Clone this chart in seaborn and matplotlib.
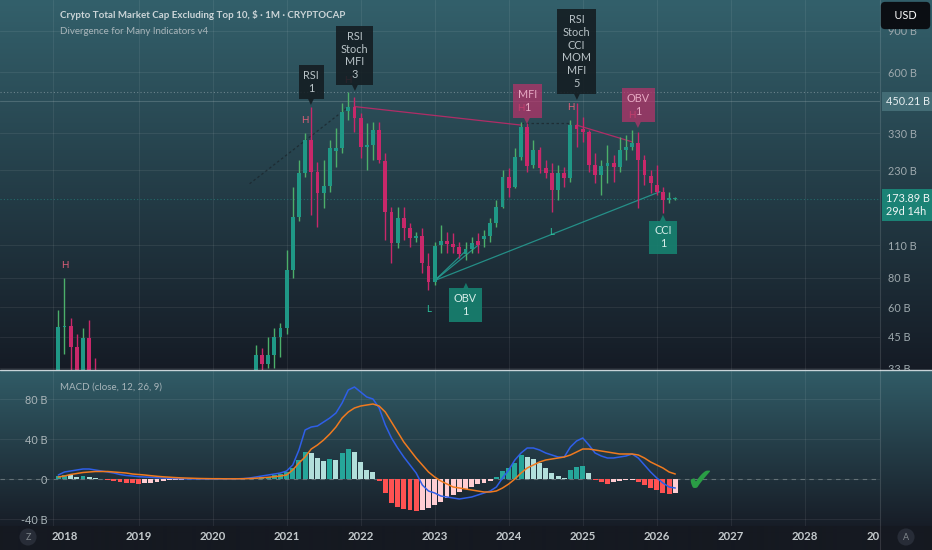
import numpy as np
import pandas as pd
import seaborn as sns
import matplotlib.pyplot as plt
from matplotlib.lines import Line2D
from matplotlib.transforms import Bbox, TransformedBbox

# monthly candles, values in billions USD (Dec 2017 .. Apr 2026)
months = pd.date_range('2017-12-01', '2026-04-01', freq='MS')

open_ = [28, 49.4, 50, 40.7, 25, 44.4, 30, 24, 25, 19,
         18, 17, 11, 9, 8.5, 10.5, 11.5, 13, 17, 16,
         13, 11.5, 10, 10.5, 9, 8.5, 11, 12, 9, 11,
         12.5, 13, 21, 37.7, 34.4, 37.7, 44.8, 48.9, 86.5, 145,
         223, 309, 226, 184, 197, 276, 284, 410, 426, 383,
         288, 294, 340, 250, 152, 113, 144, 130, 118, 121,
         90, 77, 110, 115, 112, 108, 101, 106, 115, 117,
         121, 137, 160, 215, 195, 261, 350, 242, 280, 235,
         223, 190, 223, 213, 357, 345, 334, 242, 219, 240,
         247, 236, 280, 288, 300, 254, 217, 199, 185, 172,
         173.5]
high = [58.5, 80, 54, 46, 49, 53, 36.5, 29, 26, 22,
        20, 18, 13, 10, 11, 12, 14, 19, 21, 17,
        14, 13, 11.5, 11, 9.5, 11.5, 14, 12.5, 11.5, 13,
        14, 22, 41.5, 40.3, 44.8, 48.9, 51.4, 105, 195, 254,
        330, 426, 249, 254, 309, 347, 443, 493, 470, 402,
        364, 368, 368, 272, 160, 160, 160, 137, 125, 130,
        102, 114, 134, 125, 124, 114, 114, 119, 124, 128,
        144, 171, 230, 235, 285, 368, 364, 309, 288, 254,
        246, 242, 237, 375, 443, 386, 340, 272, 254, 294,
        266, 318, 324, 340, 334, 266, 230, 242, 195, 185,
        176.5]
low = [27, 38, 31, 22, 24, 28, 22, 21, 17, 16,
       15, 10, 8, 8, 8, 10, 11, 12, 15, 12,
       11, 9, 9, 8.5, 8, 8.4, 10.5, 7, 8.5, 10.5,
       12, 12.8, 20.5, 31, 33, 33, 36.9, 46, 80, 140,
       215, 148, 132, 159, 185, 237, 272, 375, 334, 259,
       230, 254, 246, 116, 93, 107, 116, 108, 114, 84,
       71, 75, 102, 102, 102, 97, 95, 102, 102, 108,
       114, 132, 159, 177, 193, 254, 226, 235, 223, 213,
       152, 171, 195, 204, 288, 303, 226, 203, 180, 203,
       204, 226, 254, 280, 159, 199, 184, 180, 151, 167,
       172]
close = [49.4, 50, 40.7, 25, 44.4, 30, 24, 25, 19, 18,
         17, 11, 9, 8.5, 10.5, 11.5, 13, 17, 16, 13,
         11.5, 10, 10.5, 9, 8.5, 11, 12, 9, 11, 12.5,
         13, 21, 37.7, 34.4, 37.7, 44.8, 48.9, 86.5, 145, 223,
         309, 226, 184, 197, 285, 284, 406, 426, 383, 288,
         294, 340, 254, 152, 113, 144, 130, 118, 121, 93,
         77, 109, 115, 111, 108, 101, 106, 113, 110, 121,
         137, 160, 215, 193, 261, 350, 240, 280, 235, 223,
         190, 223, 213, 357, 345, 334, 242, 219, 240, 247,
         236, 280, 288, 300, 254, 219, 203, 185, 171, 173.5,
         173.89]

# MACD (close, 12, 26, 9), billions
hist = [3.5, 4.5, 4.0, 2.5, 3.0, 2.0, 1.0, 0.3,
        -1.0, -2.0, -2.7, -3.5, -4.0, -4.5,
        -4.2, -3.5, -2.8, -2.0, -1.4, -0.9, -0.6, -0.4, -0.3, -0.2, -0.15, -0.1, -0.2, -0.3, -0.2, -0.1,
        0.2, 0.6, 1.2, 1.6, 2.5, 4.0, 5.0, 7, 11, 19, 27, 26, 21, 18, 20, 19, 26, 30, 27, 17, 9, 7,
        -2, -14, -24, -28, -30, -31, -32,
        -31, -29, -26, -23, -19, -16, -13, -10, -8, -5, -4, -2,
        2, 8, 11, 16, 24, 22, 20, 16, 11, 6, 3, 1,
        9, 12, 13, 6,
        -1, -3, -5, -3, -2, -1, -0.5,
        -3, -6, -9, -11, -14, -15, -14]
macd_line = [4, 7, 8, 9, 10, 10, 9, 8, 7, 6,
             4.5, 3.5, 3, 2.3, 2, 1.7, 1.3, 1.0, 0.7, 0.5,
             0.3, 0.2, 0.1, 0.1, 0.0, 0.0, 0.0, 0.1, 0.1, 0.2,
             0.4, 1.0, 2.0, 3.0, 4.0, 5.0, 6.0,
             8, 14, 29, 49, 52, 53, 57, 61, 66, 76,
             89, 92, 87, 82, 80, 71, 54, 41, 31, 22,
             14, 6, -6, -12, -14, -17, -18, -19, -20, -19,
             -18, -16, -14, -12, -8, 1, 9, 19, 26, 31,
             31, 29, 26, 24, 22, 22, 32, 38, 41, 34,
             26, 23, 21, 21, 22, 23, 25, 21, 14, 7,
             1, -4, -8, -9]
signal_line = [2, 3, 4.5, 5.5, 6.5, 7, 7.5, 7.5, 7.5, 7,
               6.5, 6, 5, 4.5, 4, 3.3, 2.7, 2.2, 1.8, 1.4,
               1.1, 0.9, 0.7, 0.5, 0.4, 0.3, 0.3, 0.2, 0.2, 0.2,
               0.3, 0.5, 0.8, 1.2, 1.7, 2.3, 3.0,
               4, 9, 16, 22, 30, 34, 39, 45, 52, 61,
               67, 71, 73, 74, 75, 73, 67, 57, 47, 37,
               29, 21, 14, 7, 2, -2, -5, -8, -9, -10,
               -11, -12, -13, -13, -12, -9, -5, 0, 6, 11,
               14, 17, 19, 20, 21, 22, 24, 27, 30, 30,
               29, 28, 27, 26, 25, 25, 25, 24, 21, 17,
               14, 11, 7, 5]

price_ticks = [33, 45, 60, 80, 110, 230, 330, 600, 900]
macd_ticks = [-40, 0, 40, 80]
tick_years = list(range(2018, 2029))
marked_level = 450.21
countdown = '29d 14h'

# divergence markers (month index, price)
h_marks = [(1, 90), (40, 375), (47, 554), (75, 421), (83, 426), (93, 394)]
l_marks = [(60, 59), (80, 125)]
bear_lines = [((48, 428), (75, 357)), ((84, 357), (93, 303))]
bull_lines = [((61, 78), (97.5, 186)), ((61, 78), (66, 104)), ((61, 78), (68, 110))]
hidden_lines = [((31, 201), (47, 426)), ((75, 364), (83, 364))]
tags = [
    ('RSI\n1', 41, 435, 'dark', False),
    ('RSI\nStoch\nMFI\n3', 48, 497, 'dark', False),
    ('MFI\n1', 76, 360, 'bear', False),
    ('RSI\nStoch\nCCI\nMOM\nMFI\n5', 84, 456, 'dark', False),
    ('OBV\n1', 94, 347, 'bear', False),
    ('OBV\n1', 66, 77, 'bull', True),
    ('CCI\n1', 98, 149, 'bull', True),
]

sns.set_theme(style='dark')
plt.rcParams['font.family'] = ['Lato', 'DejaVu Sans']
plt.rcParams['axes.unicode_minus'] = False

W, H = 932, 550
fig = plt.figure(figsize=(W / 100, H / 100), dpi=100)


def ramp(c0, c1, n):
    t = np.linspace(0, 1, n)[:, None]
    return (np.array(c0) * (1 - t) + np.array(c1) * t) / 255


# background gradients for both panes and the time strip
img = np.vstack([ramp((51, 96, 107), (21, 27, 37), 370),
                 ramp((49, 92, 103), (23, 29, 39), 156),
                 ramp((21, 25, 33), (21, 25, 33), 24)])
bg = fig.add_axes([0, 0, 1, 1], zorder=0)
bg.imshow(img[:, None, :], aspect='auto', extent=[0, 1, 0, 1], interpolation='bilinear')
bg.set_axis_off()

ax = fig.add_axes([0, 180 / H, 880 / W, 370 / H], zorder=1)
axm = fig.add_axes([0, 24 / H, 880 / W, 155 / H], zorder=1, sharex=ax)
for a in (ax, axm):
    a.set_facecolor('none')
    for s in a.spines.values():
        s.set_visible(False)

idx = np.arange(len(months))
year_pos = [(y - 2017) * 12 + 1 - 12 for y in tick_years]
xmin, xmax = idx[0] - 9.45, idx[0] + 133.18

# grid
for a in (ax, axm):
    for p in year_pos[1:] + [idx[0] - 0.86]:
        a.axvline(p, color='white', alpha=0.07, lw=0.8, zorder=0)
ax.grid(True, axis='y', color='white', alpha=0.07, lw=0.8)
axm.grid(True, axis='y', color='white', alpha=0.07, lw=0.8)

# ---- price pane ----
o, h_, l_, c = map(np.array, (open_, high, low, close))
up = c >= o
wick_col = np.where(up, '#4caf6a', '#c8286a')
body_col = np.where(up, '#1f9886', '#c8286a')
bot = np.minimum(o, c)
top = np.maximum(np.maximum(o, c), bot * 1.012)
ax.vlines(idx, l_, h_, colors=wick_col, lw=1, zorder=3)
ax.bar(idx, top - bot, bottom=bot, width=0.62, color=body_col, lw=0, zorder=4)

ax.set_yscale('log')
ax.set_ylim(32.5, 1214)
ax.set_xlim(xmin, xmax)

ax.axhline(max(high), color='#c9d4d8', alpha=0.4, lw=0.8, ls=(0, (1, 2)), zorder=1)
ax.axhline(marked_level, color='#c9d4d8', alpha=0.22, lw=0.8, zorder=1)
ax.axhline(close[-1], color='#26a69a', alpha=0.45, lw=0.8, ls=(0, (1, 2)), zorder=1)

for (x0, y0), (x1, y1) in hidden_lines:
    ax.plot([x0, x1], [y0, y1], color='#1a2329', lw=0.9, ls=(0, (2, 2)), alpha=0.7, zorder=2)
for (x0, y0), (x1, y1) in bear_lines:
    ax.plot([x0, x1], [y0, y1], color='#c8286a', lw=0.9, alpha=0.85, zorder=2)
for (x0, y0), (x1, y1) in bull_lines:
    ax.plot([x0, x1], [y0, y1], color='#26a69a', lw=0.9, alpha=0.8, zorder=2)

for m, p in h_marks:
    ax.text(m, p, 'H', color='#e0607a', fontsize=7, ha='center', va='center', zorder=5)
for m, p in l_marks:
    ax.text(m, p, 'L', color='#2bc29c', fontsize=7, ha='center', va='center', zorder=5)

tag_style = {'dark': ('#141c21', 0.88, '#b9c3c7'),
             'bear': ('#b8336a', 0.72, '#e6a8c2'),
             'bull': ('#17806f', 0.92, '#d5ece8')}
for text, m, p, kind, point_up in tags:
    fc, al, tc = tag_style[kind]
    sgn = -1 if point_up else 1
    ax.annotate(text, xy=(m, p), xytext=(0, sgn * 8), textcoords='offset points',
                ha='center', va='top' if point_up else 'bottom', fontsize=7.8,
                color=tc, linespacing=1.2, zorder=6, annotation_clip=False,
                bbox=dict(boxstyle='square,pad=0.45', fc=fc, ec='none', alpha=al))
    ax.annotate('▲' if point_up else '▼', xy=(m, p), xytext=(0, sgn * 2.6),
                textcoords='offset points', ha='center', va='center', fontsize=5.5,
                color=fc, alpha=al, zorder=6, annotation_clip=False,
                family=['DejaVu Sans'])

ax.yaxis.tick_right()
ax.set_yticks(price_ticks)
ax.set_yticklabels([f'{t} B' for t in price_ticks])
ax.yaxis.set_minor_locator(plt.NullLocator())
ax.tick_params(axis='y', which='both', length=0, pad=5.5, labelsize=7.8, labelcolor='#9ea9ae')
ax.tick_params(axis='x', length=0, labelbottom=False)
clip = TransformedBbox(Bbox([[0, 0], [1.1, 1]]), ax.transAxes)
for t in ax.yaxis.get_major_ticks():
    t.label2.set_clip_box(clip)
    t.label2.set_clip_on(True)

ax.annotate(f'{marked_level:.2f} B', xy=(1, marked_level), xycoords=('axes fraction', 'data'),
            xytext=(4, 0), textcoords='offset points', ha='left', va='center',
            fontsize=7.8, color='#e6eef0', annotation_clip=False,
            bbox=dict(boxstyle='square,pad=0.35', fc='#436c75', ec='none'))
ax.annotate(f'{close[-1]:.2f} B\n{countdown}', xy=(1, close[-1] * 0.94),
            xycoords=('axes fraction', 'data'), xytext=(4, 0), textcoords='offset points',
            ha='left', va='center', fontsize=7.8, color='#f0f6f6', linespacing=1.2,
            annotation_clip=False, bbox=dict(boxstyle='square,pad=0.35', fc='#1b8275', ec='none'))

# ---- MACD pane ----
hv = np.array(hist)
prev = np.concatenate([[0], hv[:-1]])
hist_col = np.where(hv >= 0, np.where(hv > prev, '#26a69a', '#b2dfdb'),
                    np.where(hv < prev, '#ff5252', '#ffcdd2'))
axm.axhline(0, color='#8a9499', lw=0.8, ls=(0, (4, 4)), alpha=0.6, zorder=1)
axm.bar(idx, hv, width=0.8, color=hist_col, lw=0, zorder=2)
macd_df = pd.DataFrame({'m': idx, 'macd': macd_line, 'signal': signal_line})
sns.lineplot(data=macd_df, x='m', y='macd', ax=axm, color='#2f5fe8', lw=1.1, zorder=3)
sns.lineplot(data=macd_df, x='m', y='signal', ax=axm, color='#f07a1f', lw=1.1, zorder=3)
axm.set_xlabel('')
axm.set_ylabel('')
axm.set_ylim(-47, 108)
axm.set_xlim(xmin, xmax)
axm.set_yticks(macd_ticks)
axm.set_yticklabels([f'{t} B' if t else '0' for t in macd_ticks])
axm.tick_params(axis='y', length=0, pad=-34, labelsize=7.8, labelcolor='#a9b4b8')
axm.set_xticks(year_pos)
axm.set_xticklabels([str(y) for y in tick_years])
axm.tick_params(axis='x', length=0, pad=3.5, labelsize=8.2, labelcolor='#c3c9cc')
for lbl in axm.get_xticklabels():
    lbl.set_fontweight('bold')
axm.text(104, -4, '✔', color='#2a9d45', fontsize=23, ha='center', va='center',
         family=['DejaVu Sans'], zorder=5)

# ---- frame, titles, buttons ----
fig.add_artist(Line2D([0, 1], [1 - 370 / H] * 2, transform=fig.transFigure, color='#c8d3d8', lw=1))
fig.add_artist(Line2D([880 / W] * 2, [0, 1], transform=fig.transFigure, color='white', alpha=0.13, lw=0.8))

fig.text(60 / W, 1 - 15 / H, 'Crypto Total Market Cap Excluding Top 10, $ · 1M · CRYPTOCAP',
         fontsize=7, fontweight='bold', color='#ccd5d8', va='center')
fig.text(60 / W, 1 - 32 / H, 'Divergence for Many Indicators v4', fontsize=7,
         color='#a8b5ba', va='center')
fig.text(60 / W, 1 - 387 / H, 'MACD (close, 12, 26, 9)', fontsize=7, color='#a8b5ba', va='center')
fig.text(905.5 / W, 1 - 15.5 / H, '  USD  ', fontsize=7.8, color='white', ha='center', va='center',
         bbox=dict(boxstyle='round,pad=0.75,rounding_size=0.4', fc='#0b0e13', ec='none'))
fig.text(880 / W, 1 - 537 / H, '20', fontsize=8.2, fontweight='bold', color='#c3c9cc',
         ha='right', va='center')
for px, ch in ((28, 'Z'), (906, 'A')):
    fig.text(px / W, 1 - 537 / H, ch, fontsize=6.5, color='#80878c', ha='center', va='center',
             bbox=dict(boxstyle='circle,pad=0.45', fc='#272c37', ec='none'))

fig.savefig('out.png', dpi=100)
